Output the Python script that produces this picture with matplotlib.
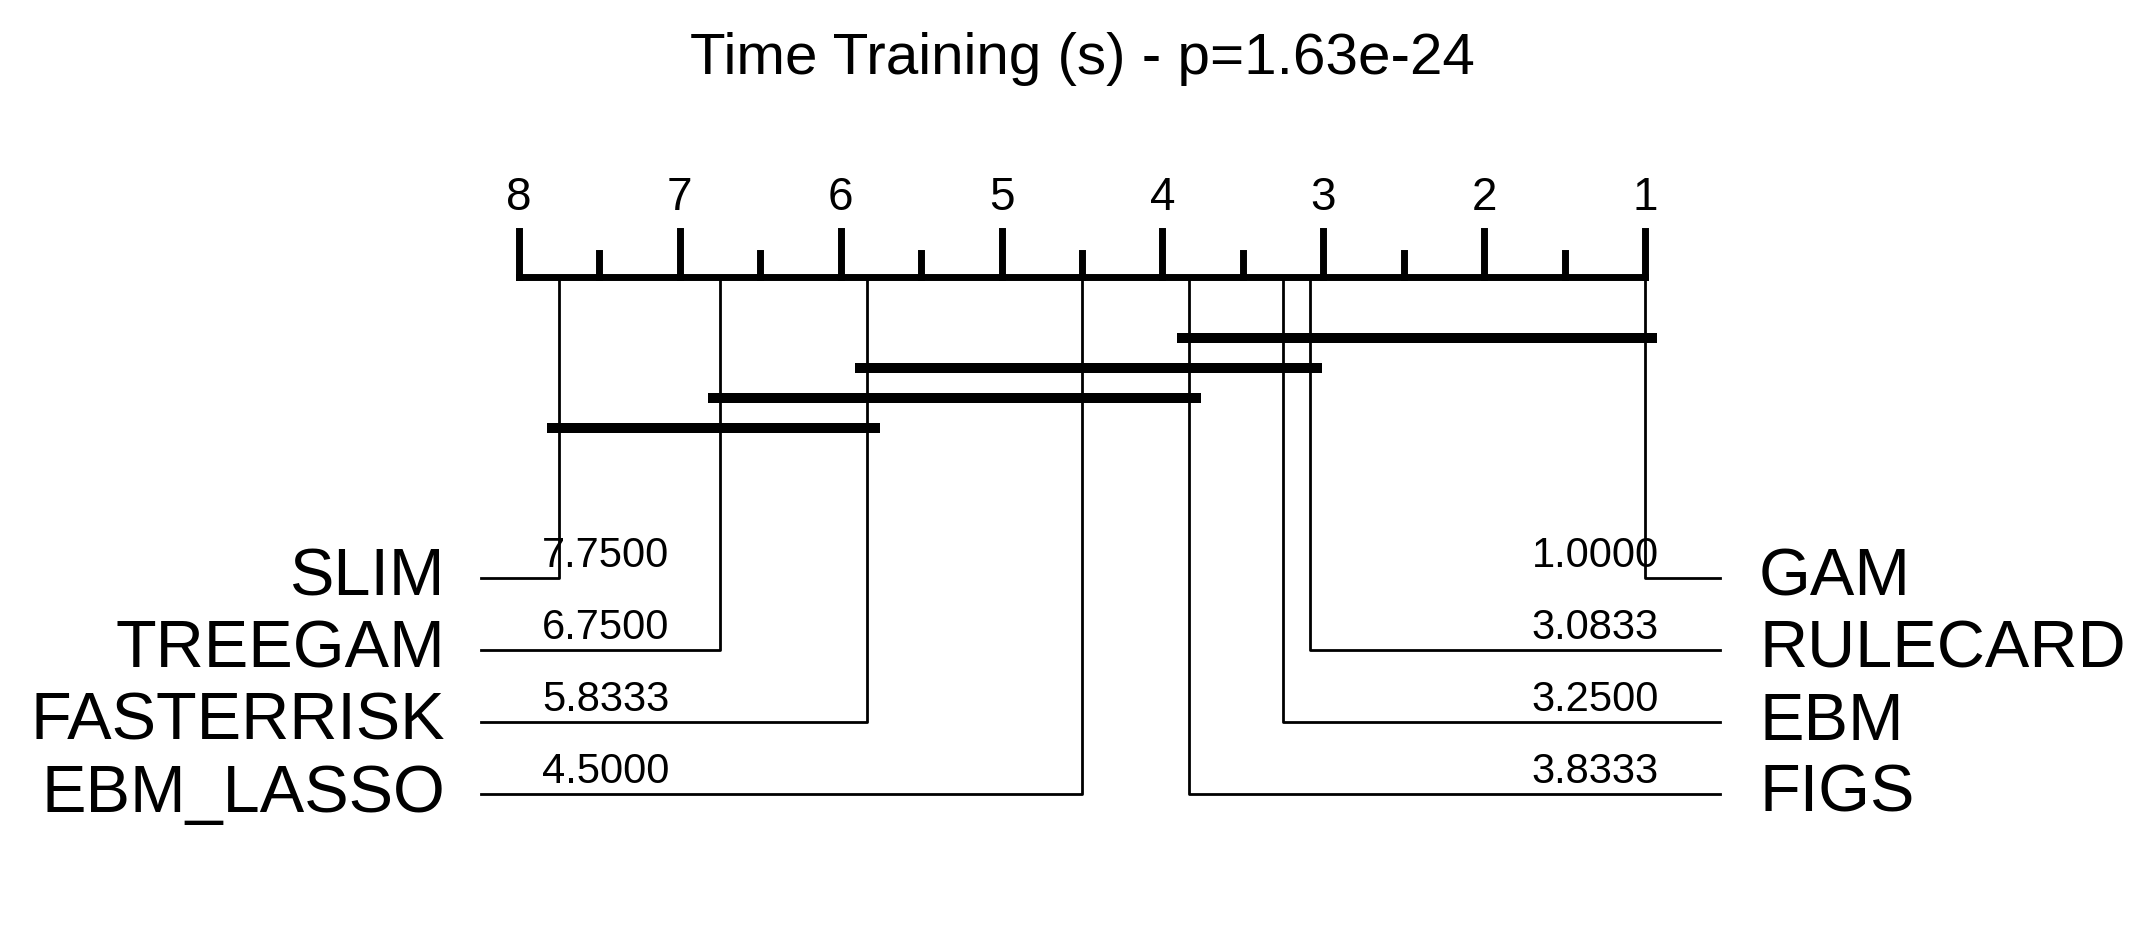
import matplotlib.pyplot as plt

plt.rcParams['font.family'] = ['Liberation Sans', 'DejaVu Sans']

title = "Time Training (s) - p=1.63e-24"

left_names = ["SLIM", "TREEGAM", "FASTERRISK", "EBM_LASSO"]
left_ranks = [7.75, 6.75, 5.8333, 4.5]
right_names = ["GAM", "RULECARD", "EBM", "FIGS"]
right_ranks = [1.0, 3.0833, 3.25, 3.8333]

# groups not significantly different (worse rank, better rank)
cliques = [(3.8333, 1.0), (5.8333, 3.0833), (6.75, 3.8333), (7.75, 5.8333)]

low, high = 1, 8

fig = plt.figure(figsize=(21.53, 9.38), dpi=100)
ax = fig.add_axes([0, 0, 1, 1])
ax.set_xlim(11.226, -2.158)
ax.set_ylim(938, 0)
ax.axis("off")

axis_y = 277
rows = [578, 650, 722, 794]
bar_y = [338, 368, 398, 428]

# rank axis
ax.plot([high, low], [axis_y, axis_y], color="k", lw=5, solid_capstyle="projecting")
for t in range(low, high + 1):
    ax.plot([t, t], [axis_y, 231], color="k", lw=5)
    ax.text(t, 210, str(t), ha="center", va="baseline", fontsize=33)
for i in range(low, high):
    t = i + 0.5
    ax.plot([t, t], [axis_y, 253], color="k", lw=5)

# left side methods
for name, r, y in zip(left_names, left_ranks, rows):
    ax.plot([r, r, 8.236], [axis_y, y, y], color="k", lw=2)
    ax.text(8.46, y + 18, name, ha="right", va="baseline", fontsize=48)
    ax.text(7.857, y - 11, "%.4f" % r, ha="left", va="baseline", fontsize=30)

# right side methods
for name, r, y in zip(right_names, right_ranks, rows):
    ax.plot([r, r, 0.534], [axis_y, y, y], color="k", lw=2)
    ax.text(0.291, y + 18, name, ha="left", va="baseline", fontsize=48)
    ax.text(0.913, y - 11, "%.4f" % r, ha="right", va="baseline", fontsize=30)

# cliques
ext = 0.075
for (a, b), y in zip(cliques, bar_y):
    ax.plot([a + ext, b - ext], [y, y], color="k", lw=7.2, solid_capstyle="butt")

ax.text(4.5, 74, title, ha="center", va="baseline", fontsize=42)

fig.savefig("out.png", dpi=100)
